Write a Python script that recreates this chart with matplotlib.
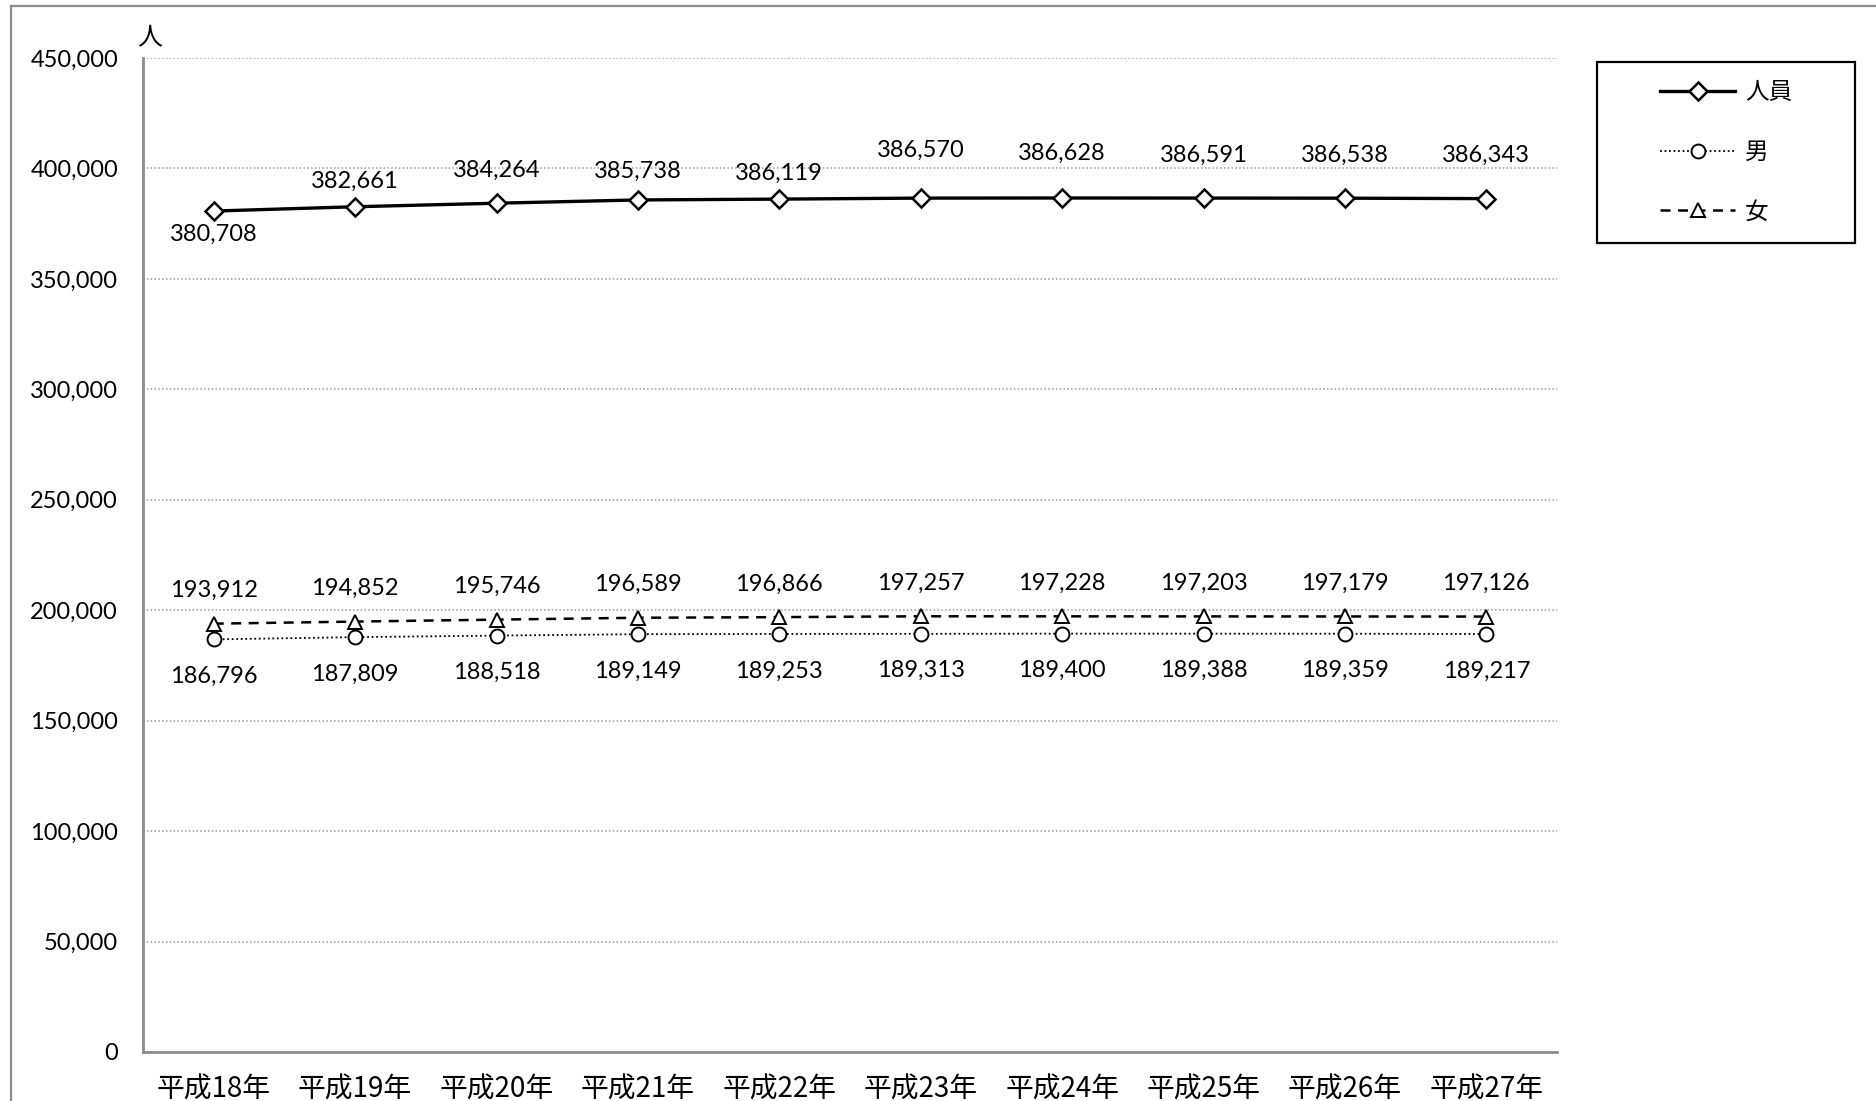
import matplotlib
matplotlib.use("Agg")
import matplotlib.pyplot as plt
from matplotlib.patches import Rectangle
from matplotlib.lines import Line2D
from matplotlib.ticker import FuncFormatter

plt.rcParams['font.family'] = ['Lato', 'Noto Sans CJK JP', 'DejaVu Sans']

categories = ["平成18年", "平成19年", "平成20年", "平成21年", "平成22年",
              "平成23年", "平成24年", "平成25年", "平成26年", "平成27年"]
total = [380708, 382661, 384264, 385738, 386119, 386570, 386628, 386591, 386538, 386343]
male = [186796, 187809, 188518, 189149, 189253, 189313, 189400, 189388, 189359, 189217]
female = [193912, 194852, 195746, 196589, 196866, 197257, 197228, 197203, 197179, 197126]
series_names = ["人員", "男", "女"]
y_ticks = [0, 50000, 100000, 150000, 200000, 250000, 300000, 350000, 400000, 450000]

# label offsets (pixels) for the total series
total_label_dy = [-23, 25, 33, 29, 26, 48, 45, 43, 43, 43]

W, H = 1876, 1101
fig = plt.figure(figsize=(W / 100, H / 100), dpi=100)
ax = fig.add_axes([143 / W, 1 - 1052 / H, (1557 - 143) / W, (1052 - 58) / H])

x = list(range(len(categories)))
ax.plot(x, total, color='black', lw=2.4, marker='D', ms=9, mfc='white', mec='black',
        mew=1.8, label=series_names[0], zorder=4)
ax.plot(x, male, color='black', lw=1.3, ls=(0, (1, 1.5)), marker='o', ms=10, mfc='white',
        mec='black', mew=1.4, label=series_names[1], zorder=4)
ax.plot(x, female, color='black', lw=1.8, ls=(0, (4, 3)), marker='^', ms=10, mfc='white',
        mec='black', mew=1.4, label=series_names[2], zorder=4)

fs = 17
for i, v in enumerate(total):
    dy = total_label_dy[i]
    ax.annotate(f"{v:,}", (i, v), xytext=(0, dy), textcoords='offset pixels',
                ha='center', va='center', fontsize=fs)
for i, v in enumerate(female):
    ax.annotate(f"{v:,}", (i, v), xytext=(0, 33), textcoords='offset pixels',
                ha='center', va='center', fontsize=fs)
for i, v in enumerate(male):
    ax.annotate(f"{v:,}", (i, v), xytext=(0, -37), textcoords='offset pixels',
                ha='center', va='center', fontsize=fs)

ax.set_xlim(-0.5, len(categories) - 0.5)
ax.set_ylim(0, 450000)
ax.set_yticks(y_ticks)
ax.yaxis.set_major_formatter(FuncFormatter(lambda v, p: f"{int(v):,}"))
ax.set_xticks(x)
ax.set_xticklabels(categories, fontsize=20, family=['Noto Sans CJK JP'])
ax.tick_params(axis='y', length=0, pad=18, labelsize=fs)
ax.tick_params(axis='x', length=0, pad=16)

ax.grid(axis='y', color='#9a9a9a', ls=(0, (1, 1.5)), lw=1.1)
ax.set_axisbelow(True)
for s in ['top', 'right']:
    ax.spines[s].set_visible(False)
for s in ['left', 'bottom']:
    ax.spines[s].set_color('#8c8c8c')
    ax.spines[s].set_linewidth(2)

fig.text(150 / W, 1 - 38 / H, "人", fontsize=18, ha='center', va='center',
         family=['Noto Sans CJK JP'])

# legend box
fig.patches.append(Rectangle((1597 / W, 1 - 243 / H), (1855 - 1597) / W, (243 - 62) / H,
                             transform=fig.transFigure, fill=False, ec='black', lw=1.6))
leg = fig.legend(loc='center', bbox_to_anchor=((1597 + 1855) / 2 / W, 1 - (62 + 243) / 2 / H),
                 frameon=False, handlelength=3.2, labelspacing=1.55,
                 handletextpad=0.4, prop={'family': ['Noto Sans CJK JP'], 'size': 17})

# outer frame (top and left)
fig.add_artist(Line2D([11 / W, 11 / W], [0, 1 - 6 / H], transform=fig.transFigure,
                      color='#8c8c8c', lw=1.6))
fig.add_artist(Line2D([11 / W, 1], [1 - 6 / H, 1 - 6 / H], transform=fig.transFigure,
                      color='#8c8c8c', lw=1.6))

fig.savefig("out.png", dpi=100)
